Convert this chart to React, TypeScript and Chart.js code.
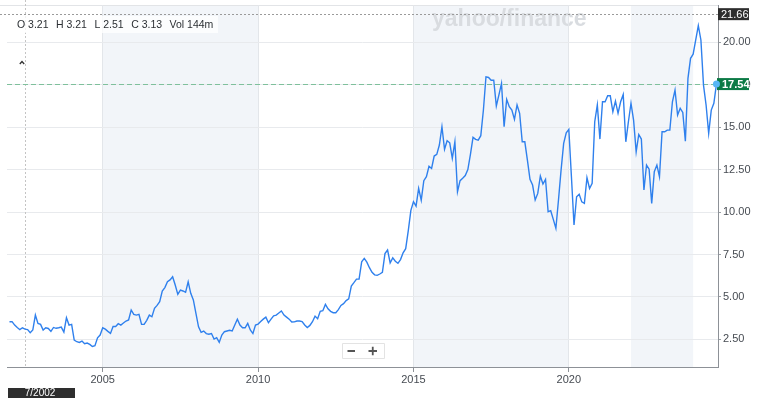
import React, { useEffect, useRef } from "react";
import { Chart, registerables } from "chart.js";

Chart.register(...registerables);

// Monthly closing prices, one array per year (Jan..Dec), starting January 2002
const START_YEAR = 2002;
const CLOSE_2002 = [3.54, 3.54, 3.34, 3.2, 3.07, 3.18, 3.1, 3.07, 2.89, 3.05, 3.93, 3.44];
const CLOSE_2003 = [3.38, 3.05, 3.18, 3.14, 2.97, 3.2, 3.15, 3.18, 3.22, 2.93, 3.77, 3.34];
const CLOSE_2004 = [3.38, 2.46, 2.36, 2.32, 2.4, 2.24, 2.28, 2.2, 2.08, 2.12, 2.59, 2.75];
const CLOSE_2005 = [3.18, 3.1, 2.97, 2.85, 3.26, 3.26, 3.42, 3.34, 3.46, 3.58, 3.64, 4.23];
const CLOSE_2006 = [3.97, 3.93, 3.97, 3.38, 3.38, 3.62, 3.93, 3.83, 4.33, 4.5, 4.72, 5.35];
const CLOSE_2007 = [5.55, 5.89, 6.0, 6.19, 5.7, 5.15, 5.4, 5.35, 5.27, 5.89, 5.21, 4.82];
const CLOSE_2008 = [4.03, 3.24, 2.91, 2.99, 2.84, 2.8, 2.84, 2.52, 2.6, 2.32, 2.75, 2.95];
const CLOSE_2009 = [2.99, 3.03, 2.99, 3.34, 3.69, 3.34, 3.18, 3.18, 3.44, 3.05, 2.84, 3.34];
const CLOSE_2010 = [3.4, 3.55, 3.69, 3.81, 3.48, 3.69, 3.89, 3.93, 4.05, 4.17, 3.93, 3.81];
const CLOSE_2011 = [3.69, 3.52, 3.53, 3.58, 3.58, 3.55, 3.35, 3.2, 3.32, 3.54, 3.87, 3.72];
const CLOSE_2012 = [4.15, 4.19, 4.56, 4.3, 4.15, 4.07, 4.07, 4.25, 4.5, 4.6, 4.78, 4.88];
const CLOSE_2013 = [5.64, 5.84, 6.05, 6.05, 7.07, 7.27, 7.05, 6.72, 6.45, 6.3, 6.27, 6.35];
const CLOSE_2014 = [6.45, 7.55, 7.76, 7.0, 7.3, 7.1, 6.98, 7.2, 7.6, 7.84, 8.9, 10.1];
const CLOSE_2015 = [10.61, 10.35, 11.39, 10.7, 11.85, 12.08, 12.7, 12.57, 13.3, 13.4, 13.95, 15.03];
const CLOSE_2016 = [13.7, 14.2, 14.08, 13.16, 14.14, 11.2, 11.85, 11.99, 12.15, 12.5, 13.4, 14.4];
const CLOSE_2017 = [14.28, 14.24, 14.5, 16.0, 17.97, 17.93, 17.77, 17.77, 16.25, 16.9, 17.58, 15.03];
const CLOSE_2018 = [16.64, 16.21, 16.01, 15.46, 16.31, 15.82, 14.14, 14.14, 13.06, 11.93, 11.59, 10.71];
const CLOSE_2019 = [11.1, 12.12, 11.65, 11.93, 10.02, 10.08, 9.57, 9.04, 10.71, 12.47, 14.05, 14.67];
const CLOSE_2020 = [14.87, 12.08, 9.24, 10.9, 11.05, 10.6, 10.51, 12.02, 11.39, 11.69, 15.32, 16.31];
const CLOSE_2021 = [14.3, 16.5, 16.5, 16.85, 16.85, 15.91, 16.54, 15.82, 16.5, 16.93, 14.14, 15.32];
const CLOSE_2022 = [16.41, 15.42, 13.55, 14.57, 14.3, 11.3, 12.77, 12.53, 10.51, 12.38, 12.77, 12.08];
const CLOSE_2023 = [14.73, 14.73, 14.83, 14.83, 16.5, 17.19, 15.72, 16.11, 15.87, 14.18, 17.88, 19.06];
const CLOSE_2024 = [19.3, 20.14, 20.98, 20.14, 17.48, 16.31, 14.64, 16.01, 16.41, 17.54];

const YEAR_TICKS = [2005, 2010, 2015, 2020];
const PRICE_TICKS = [2.5, 5, 7.5, 10, 12.5, 15, 17.5, 20];
const SHADED_SPANS = [
  [2005, 2010],
  [2015, 2020],
  [2022, 2024],
];
const LAST_PRICE = 17.54;
const HIGH_PRICE = 21.66;
const CROSSHAIR_YEAR = 2002.5;
const CROSSHAIR_LABEL = "7/2002";
const OHLC_LABELS = ["O", "H", "L", "C", "Vol"];
const OHLC_VALUES = ["3.21", "3.21", "2.51", "3.13", "144m"];

const ALL_CLOSES = [
  ...CLOSE_2002, ...CLOSE_2003, ...CLOSE_2004, ...CLOSE_2005, ...CLOSE_2006, ...CLOSE_2007,
  ...CLOSE_2008, ...CLOSE_2009, ...CLOSE_2010, ...CLOSE_2011, ...CLOSE_2012, ...CLOSE_2013,
  ...CLOSE_2014, ...CLOSE_2015, ...CLOSE_2016, ...CLOSE_2017, ...CLOSE_2018, ...CLOSE_2019,
  ...CLOSE_2020, ...CLOSE_2021, ...CLOSE_2022, ...CLOSE_2023, ...CLOSE_2024,
];

const FONT = '"Liberation Sans", Arial, Helvetica, sans-serif';

const decor = {
  id: "decor",
  beforeDraw(chart: any) {
    const { ctx, chartArea: a, scales } = chart;
    const x = scales.x;
    ctx.save();
    ctx.fillStyle = "#ffffff";
    ctx.fillRect(0, 0, chart.width, chart.height);
    ctx.fillStyle = "#f2f5f9";
    for (const [s, e] of SHADED_SPANS) {
      const x0 = x.getPixelForValue(s);
      const x1 = x.getPixelForValue(e);
      ctx.fillRect(x0, a.top, x1 - x0, a.bottom - a.top);
    }
    // top frame line
    ctx.strokeStyle = "#e2e4e7";
    ctx.lineWidth = 1;
    ctx.beginPath();
    ctx.moveTo(0, a.top + 0.5);
    ctx.lineTo(a.right, a.top + 0.5);
    ctx.stroke();
    // watermark
    ctx.font = "bold 23px " + FONT;
    ctx.fillStyle = "#d9dce0";
    ctx.textBaseline = "alphabetic";
    ctx.textAlign = "left";
    ctx.fillText("yahoo/finance", 432, 26);
    ctx.restore();
  },
  beforeDatasetsDraw(chart: any) {
    const { ctx, chartArea: a, scales } = chart;
    const { x, y } = scales;
    ctx.save();
    // high dotted line
    const yh = Math.round(y.getPixelForValue(HIGH_PRICE)) + 0.5;
    ctx.strokeStyle = "#9a9a9a";
    ctx.lineWidth = 1;
    ctx.setLineDash([2, 2]);
    ctx.beginPath();
    ctx.moveTo(0, yh);
    ctx.lineTo(a.right, yh);
    ctx.stroke();
    // crosshair vertical
    const xc = Math.round(x.getPixelForValue(CROSSHAIR_YEAR)) + 0.5;
    ctx.strokeStyle = "#c4c4c4";
    ctx.beginPath();
    ctx.moveTo(xc, 0);
    ctx.lineTo(xc, a.bottom);
    ctx.stroke();
    // last price dashed
    const yl = Math.round(y.getPixelForValue(LAST_PRICE)) + 0.5;
    ctx.strokeStyle = "#7fc09c";
    ctx.setLineDash([5, 3]);
    ctx.beginPath();
    ctx.moveTo(a.left, yl);
    ctx.lineTo(a.right, yl);
    ctx.stroke();
    ctx.restore();
  },
  afterDatasetsDraw(chart: any) {
    const { ctx, chartArea: a, scales } = chart;
    const { x, y } = scales;
    ctx.save();
    ctx.setLineDash([]);
    // OHLC header
    ctx.fillStyle = "rgba(255,255,255,0.75)";
    ctx.fillRect(8, 16, 210, 17);
    ctx.font = "10.5px " + FONT;
    ctx.fillStyle = "#2b2f33";
    ctx.textBaseline = "alphabetic";
    ctx.textAlign = "left";
    let cx = 17;
    OHLC_LABELS.forEach((lab, i) => {
      ctx.fillText(lab, cx, 28);
      cx += ctx.measureText(lab + " ").width;
      ctx.fillText(OHLC_VALUES[i], cx, 28);
      cx += ctx.measureText(OHLC_VALUES[i]).width + 7.5;
    });
    // chevron
    ctx.strokeStyle = "#333";
    ctx.lineWidth = 1.3;
    ctx.beginPath();
    ctx.moveTo(19.8, 64);
    ctx.lineTo(22, 61.5);
    ctx.lineTo(24.2, 64);
    ctx.stroke();
    // high label
    const yh = y.getPixelForValue(HIGH_PRICE);
    ctx.fillStyle = "#2d2d2d";
    ctx.fillRect(a.right, yh - 6, 31, 12);
    ctx.fillStyle = "#fff";
    ctx.font = "11px " + FONT;
    ctx.textBaseline = "middle";
    ctx.fillText(HIGH_PRICE.toFixed(2), a.right + 3, yh + 0.5);
    // last label
    const yl = y.getPixelForValue(LAST_PRICE);
    ctx.fillStyle = "#0b7a45";
    ctx.fillRect(a.right - 1, yl - 6, 32, 12);
    ctx.fillStyle = "#fff";
    ctx.font = "bold 11px " + FONT;
    ctx.fillText(LAST_PRICE.toFixed(2), a.right + 4, yl + 0.5);
    // last point dot
    const lastX = x.getPixelForValue(START_YEAR + (ALL_CLOSES.length - 1) / 12);
    ctx.fillStyle = "#58b6f4";
    ctx.beginPath();
    ctx.arc(lastX, yl, 3.5, 0, Math.PI * 2);
    ctx.fill();
    // zoom buttons
    ctx.fillStyle = "#ffffff";
    ctx.strokeStyle = "#e3e3e3";
    ctx.lineWidth = 1;
    ctx.beginPath();
    ctx.rect(342.5, 343.5, 42, 15);
    ctx.fill();
    ctx.stroke();
    ctx.strokeStyle = "#555";
    ctx.lineWidth = 1.8;
    ctx.beginPath();
    ctx.moveTo(347.5, 351);
    ctx.lineTo(355, 351);
    ctx.moveTo(368.5, 351);
    ctx.lineTo(377, 351);
    ctx.moveTo(372.75, 346.8);
    ctx.lineTo(372.75, 355.2);
    ctx.stroke();
    // crosshair date label
    const xc = x.getPixelForValue(CROSSHAIR_YEAR);
    ctx.fillStyle = "#2e2e2e";
    ctx.fillRect(8, 388, 67, 12);
    ctx.fillStyle = "#fff";
    ctx.font = "10px " + FONT;
    ctx.textAlign = "center";
    ctx.textBaseline = "middle";
    ctx.fillText(CROSSHAIR_LABEL, xc + 15, 393.5);
    ctx.restore();
  },
};

export default function App() {
  const ref = useRef<HTMLCanvasElement>(null);

  useEffect(() => {
    if (!ref.current) return;
    const points = ALL_CLOSES.map((v, i) => ({ x: START_YEAR + i / 12, y: v }));
    const chart = new Chart(ref.current, {
      type: "line",
      data: {
        datasets: [
          {
            data: points,
            borderColor: "#2f80ed",
            borderWidth: 1.4,
            pointRadius: 0,
            tension: 0,
            fill: false,
          },
        ],
      },
      options: {
        animation: false,
        responsive: false,
        devicePixelRatio: 1,
        layout: { padding: { left: 7, top: 5, right: 0, bottom: 0 } },
        plugins: {
          legend: { display: false },
          tooltip: { enabled: false },
        },
        scales: {
          x: {
            type: "linear",
            min: 2001.92,
            max: 2024.8,
            afterBuildTicks: (s: any) => {
              s.ticks = YEAR_TICKS.map((v) => ({ value: v }));
            },
            afterFit: (s: any) => {
              s.height = 31;
              s.paddingLeft = 0;
              s.paddingRight = 0;
            },
            ticks: {
              autoSkip: false,
              maxRotation: 0,
              padding: 1,
              color: "#464b52",
              font: { family: FONT, size: 11 },
              callback: (v: any) => String(v),
            },
            grid: {
              color: "#e3e6ea",
              tickColor: "#8d9197",
              tickLength: 5,
            },
            border: { display: true, color: "#8d9197" },
          },
          y: {
            type: "linear",
            position: "right",
            min: 0.87,
            max: 22.2,
            afterBuildTicks: (s: any) => {
              s.ticks = PRICE_TICKS.map((v) => ({ value: v }));
            },
            afterFit: (s: any) => {
              s.width = 42;
              s.paddingTop = 0;
              s.paddingBottom = 0;
            },
            ticks: {
              padding: 2,
              color: "#464b52",
              font: { family: FONT, size: 11 },
              callback: (v: any) => Number(v).toFixed(2),
            },
            grid: {
              color: "#e8eaed",
              tickColor: "#9aa0a6",
              tickLength: 3,
            },
            border: { display: true, color: "#8d9197" },
          },
        },
      },
      plugins: [decor],
    } as any);
    return () => chart.destroy();
  }, []);

  return (
    <div style={{ position: "absolute", left: 0, top: 0, width: 760, height: 398 }}>
      <canvas ref={ref} width={760} height={398} style={{ width: 760, height: 398, display: "block" }} />
    </div>
  );
}
